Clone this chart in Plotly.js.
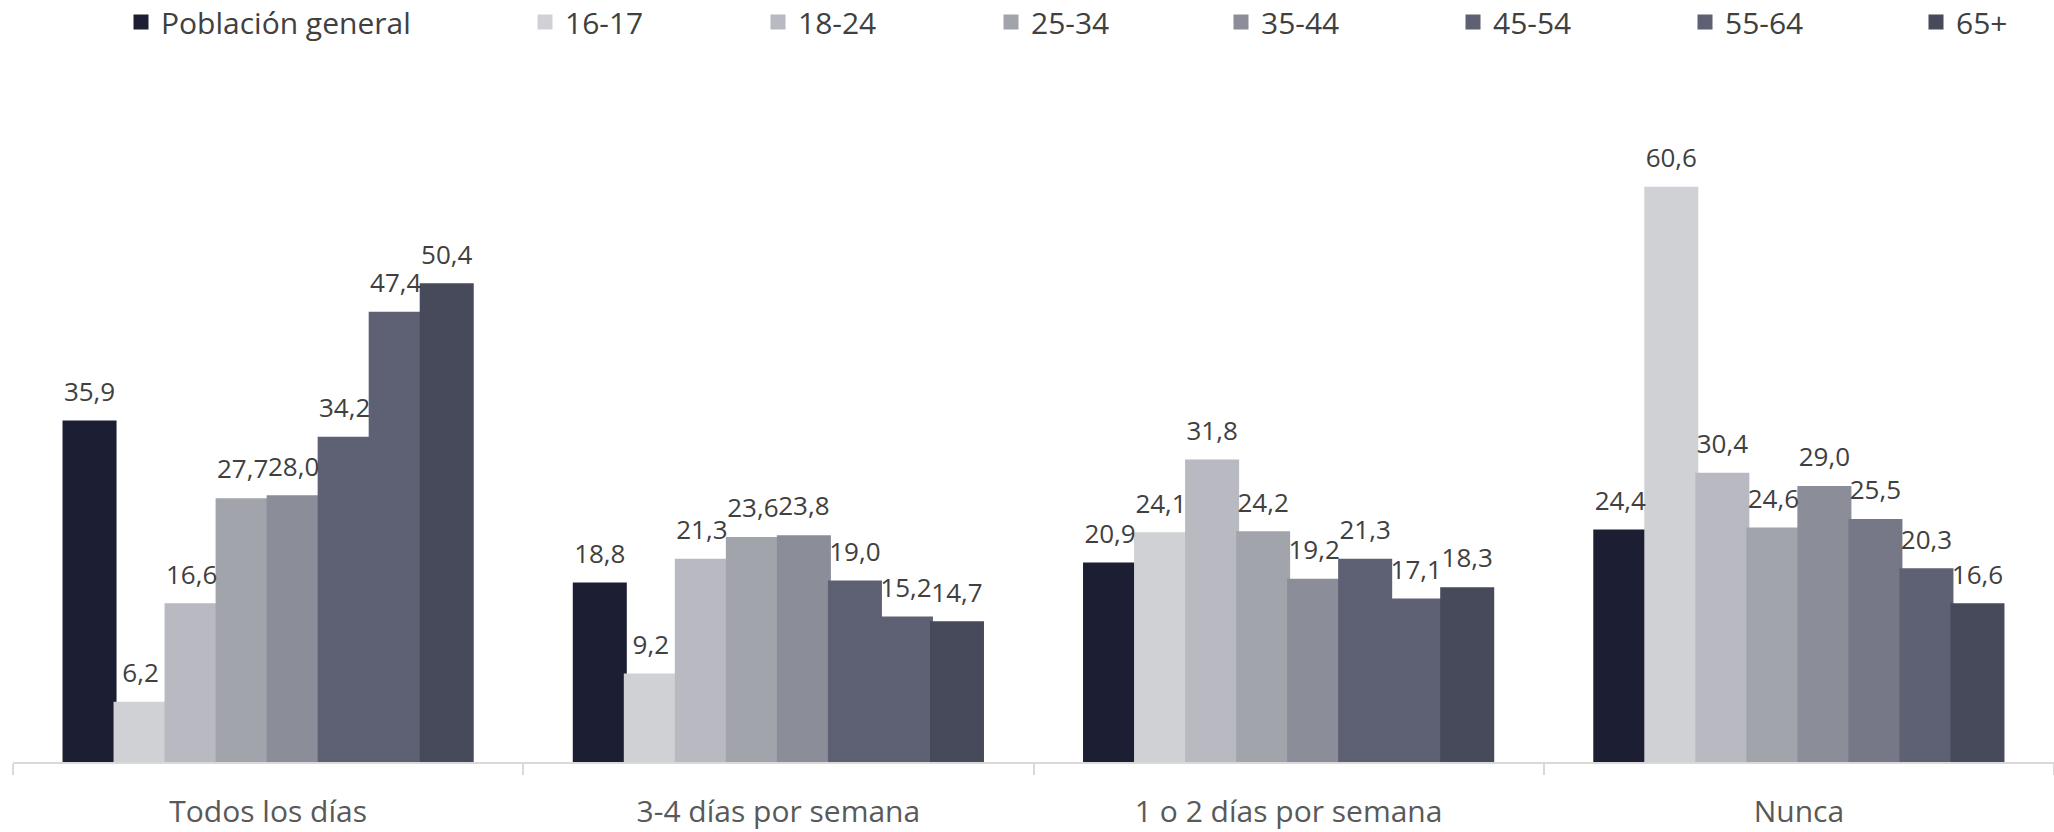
<!DOCTYPE html>
<html>
<head>
<meta charset="utf-8">
<script src="https://cdn.plot.ly/plotly-3.0.1.min.js"></script>
<style>html,body{margin:0;padding:0;background:#fff;}#chart{width:2054px;height:832px;}</style>
</head>
<body>
<div id="chart"></div>
<script>
const categories = ["Todos los días", "3-4 días por semana", "1 o 2 días por semana", "Nunca"];
const seriesNames = ["Población general", "16-17", "18-24", "25-34", "35-44", "45-54", "55-64", "65+"];
const poblacionGeneral = [35.9, 18.8, 20.9, 24.4];
const age16_17 = [6.2, 9.2, 24.1, 60.6];
const age18_24 = [16.6, 21.3, 31.8, 30.4];
const age25_34 = [27.7, 23.6, 24.2, 24.6];
const age35_44 = [28.0, 23.8, 19.2, 29.0];
const age45_54 = [34.2, 19.0, 21.3, 25.5];
const age55_64 = [47.4, 15.2, 17.1, 20.3];
const age65plus = [50.4, 14.7, 18.3, 16.6];
const seriesValues = [poblacionGeneral, age16_17, age18_24, age25_34, age35_44, age45_54, age55_64, age65plus];

const colors = [
  "#1c1f33", "#d0d1d5", "#b8b9c1", "#a2a4ab", "#8b8d98",
  ["#5e6173", "#5e6173", "#5e6173", "#767887"], "#5e6173", "#474a5a"
];
const legendX = [121, 525, 758, 991, 1221, 1453, 1685, 1916];

const W = 2054, H = 832;
const traces = [];
const layout = {
  width: W, height: H,
  margin: {l: 13, r: 0, t: 120, b: 70},
  paper_bgcolor: "#ffffff", plot_bgcolor: "#ffffff",
  separators: ",.",
  font: {family: "Open Sans, Noto Sans, sans-serif", color: "#404040", size: 26},
  barmode: "group", bargap: 0.2, bargroupgap: 0,
  scattermode: "group", scattergap: 0.2,
  showlegend: true,
  xaxis: {
    type: "category", showline: true, linecolor: "#d9d9d9", linewidth: 2,
    ticks: "outside", tickson: "boundaries", ticklen: 11, tickwidth: 2, tickcolor: "#d9d9d9",
    tickfont: {size: 30, color: "#595959"}, ticklabelstandoff: 22,
    showgrid: false, zeroline: false, fixedrange: true
  },
  yaxis: {visible: false, range: [0, 67.8], showgrid: false, zeroline: false, fixedrange: true}
};

seriesValues.forEach((vals, i) => {
  const lg = i === 0 ? "legend" : "legend" + (i + 1);
  traces.push({
    type: "bar", name: seriesNames[i], x: categories, y: vals,
    marker: {color: colors[i], line: {width: 3, color: colors[i]}},
    legend: lg, hoverinfo: "skip", offsetgroup: "g" + i
  });
  layout[lg] = {
    xref: "container", yref: "container",
    x: legendX[i] / W, xanchor: "left",
    y: 1 - 22 / H, yanchor: "middle",
    orientation: "h", bgcolor: "rgba(0,0,0,0)",
    font: {size: 30, color: "#404040"}
  };
});
seriesValues.forEach((vals, i) => {
  traces.push({
    type: "scatter", mode: "markers+text", x: categories, y: vals,
    text: vals.map(v => v), texttemplate: "%{y:.1f}", textposition: "top center",
    textfont: {size: 26, color: "#404040"},
    marker: {size: 22, opacity: 0},
    showlegend: false, hoverinfo: "skip", cliponaxis: false, offsetgroup: "g" + i
  });
});

Plotly.newPlot("chart", traces, layout, {displayModeBar: false, staticPlot: true});
</script>
</body>
</html>
